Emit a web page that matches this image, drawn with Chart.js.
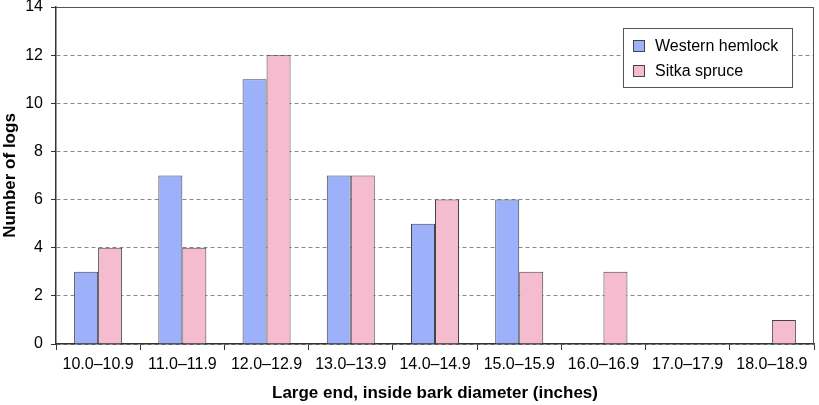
<!DOCTYPE html>
<html>
<head>
<meta charset="utf-8">
<script src="https://cdn.jsdelivr.net/npm/chart.js@4/dist/chart.umd.min.js"></script>
<style>
  html, body { margin: 0; padding: 0; background: #fff; }
  #wrap { width: 819px; height: 405px; }
</style>
</head>
<body>
<div id="wrap"><canvas id="chart" width="819" height="405"></canvas></div>
<script>
"use strict";

// diameter classes and log counts
const CLASSES = [
  "10.0–10.9", "11.0–11.9", "12.0–12.9", "13.0–13.9", "14.0–14.9",
  "15.0–15.9", "16.0–16.9", "17.0–17.9", "18.0–18.9",
];
const HEMLOCK = [3, 7, 11, 7, 5, 6, 0, 0, 0];
const SPRUCE = [4, 4, 12, 7, 6, 3, 3, 0, 1];
const Y_MAX = 14;
const Y_STEP = 2;

const BLUE = "#9cb1fa";
const PINK = "#f5bccf";
const EDGE = "#444";

// top + right edge of the plot box
const frame = {
  id: "frame",
  afterDraw(chart) {
    const a = chart.chartArea, ctx = chart.ctx;
    ctx.save();
    ctx.strokeStyle = "#555";
    ctx.lineWidth = 1;
    ctx.beginPath();
    ctx.moveTo(a.left, a.top + 0.5);
    ctx.lineTo(a.right - 0.5, a.top + 0.5);
    ctx.lineTo(a.right - 0.5, a.bottom);
    ctx.stroke();
    ctx.restore();
  },
};

// boxed legend inside the plot, top right
const boxLegend = {
  id: "boxLegend",
  afterDraw(chart) {
    const ctx = chart.ctx;
    const x = 623, y = 28, w = 169, h = 59;
    ctx.save();
    ctx.fillStyle = "#fff";
    ctx.fillRect(x, y, w, h);
    ctx.strokeStyle = "#555";
    ctx.lineWidth = 1;
    ctx.strokeRect(x + 0.5, y + 0.5, w, h);
    ctx.font = "16px 'Liberation Sans', Arial, sans-serif";
    ctx.textBaseline = "middle";
    chart.data.datasets.forEach((ds, i) => {
      const cy = y + 18 + i * 25;
      ctx.fillStyle = ds.backgroundColor;
      ctx.fillRect(x + 10, cy - 6, 12, 12);
      ctx.strokeStyle = EDGE;
      ctx.strokeRect(x + 10.5, cy - 5.5, 11, 11);
      ctx.fillStyle = "#000";
      ctx.fillText(ds.label, x + 32, cy + 1);
    });
    ctx.restore();
  },
};

const FONT = { family: "'Liberation Sans', Arial, sans-serif", size: 16 };
const TITLE_FONT = { family: "'Liberation Sans', Arial, sans-serif", size: 17, weight: "bold" };

new Chart(document.getElementById("chart"), {
  type: "bar",
  data: {
    labels: CLASSES,
    datasets: [
      { label: "Western hemlock", data: HEMLOCK, backgroundColor: BLUE,
        borderColor: EDGE, borderWidth: 1 },
      { label: "Sitka spruce", data: SPRUCE, backgroundColor: PINK,
        borderColor: EDGE, borderWidth: 1 },
    ],
  },
  options: {
    responsive: false,
    animation: false,
    layout: { padding: { top: 7, right: 5, left: 0, bottom: 0 } },
    datasets: { bar: { categoryPercentage: 0.57, barPercentage: 1 } },
    plugins: { legend: { display: false }, tooltip: { enabled: false } },
    scales: {
      x: {
        afterFit(s) { s.height = 61; s.paddingLeft = 0; s.paddingRight = 0; },
        grid: { drawOnChartArea: false, drawTicks: true, tickLength: 6,
                tickColor: "#333", offset: true },
        border: { color: "#333", width: 1.5 },
        ticks: { color: "#000", font: FONT, padding: 5, maxRotation: 0 },
        title: { display: true, text: "Large end, inside bark diameter (inches)",
                 color: "#000", font: TITLE_FONT, padding: { top: 0, bottom: 1 } },
      },
      y: {
        min: 0, max: Y_MAX,
        afterFit(s) { s.width = 56; s.paddingTop = 0; s.paddingBottom = 0; },
        grid: { color: "#888", tickLength: 5, tickColor: "#333" },
        border: { color: "#333", width: 1.5, dash: [4, 3] },
        ticks: { stepSize: Y_STEP, color: "#000", font: FONT, padding: 8 },
        title: { display: true, text: "Number of logs", color: "#000",
                 font: TITLE_FONT, padding: { top: 0, bottom: 0 } },
      },
    },
  },
  plugins: [frame, boxLegend],
});
</script>
</body>
</html>
